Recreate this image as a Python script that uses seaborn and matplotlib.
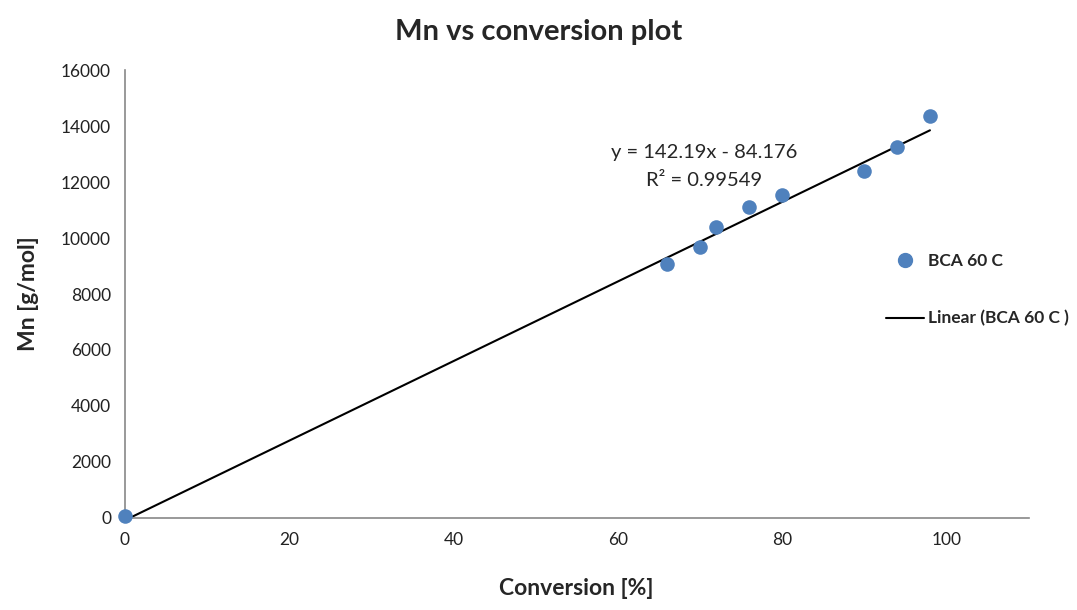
import numpy as np
import pandas as pd
import matplotlib
matplotlib.use("Agg")
import matplotlib.pyplot as plt
import seaborn as sns
from matplotlib.lines import Line2D

conversion = [0, 66, 70, 72, 76, 80, 90, 94, 98]
mn = [50, 9070, 9680, 10390, 11100, 11540, 12390, 13250, 14360]
slope = 142.19
intercept = -84.176
eq_text = "y = 142.19x - 84.176"
r2_text = "R² = 0.99549"
series_name = "BCA 60 C"
trend_name = "Linear (BCA 60 C )"
xticks = [0, 20, 40, 60, 80, 100]
yticks = [0, 2000, 4000, 6000, 8000, 10000, 12000, 14000, 16000]

sns.set_theme(style="white")
plt.rcParams['font.family'] = ['Lato', 'DejaVu Sans']

df = pd.DataFrame({"Conversion": conversion, "Mn": mn})

fig = plt.figure(figsize=(10.77, 6.10), dpi=100)
ax = fig.add_axes([0.116, 0.151, 0.839, 0.734])

blue = "#4F81BD"
sns.scatterplot(data=df, x="Conversion", y="Mn", ax=ax, color=blue, s=110,
                edgecolor=blue, linewidth=0, zorder=3, legend=False,
                clip_on=False)
xl = np.array([0, max(conversion)])
ax.plot(xl, slope * xl + intercept, color="black", lw=1.5, zorder=2,
        clip_on=False)

ax.set_xlim(0, 110)
ax.set_ylim(0, 16000)
ax.set_xticks(xticks)
ax.set_yticks(yticks)
ax.tick_params(axis="both", labelsize=12.5, colors="#222222", length=0, pad=10)
for side in ["top", "right"]:
    ax.spines[side].set_visible(False)
for side in ["left", "bottom"]:
    ax.spines[side].set_color("#888888")
    ax.spines[side].set_linewidth(1.2)
ax.grid(False)

ax.set_xlabel("Conversion [%]", fontsize=16.5, fontweight="bold", labelpad=22)
ax.set_ylabel("Mn [g/mol]", fontsize=16.5, fontweight="bold", labelpad=16)
fig.text(0.5, 0.948, "Mn vs conversion plot", ha="center", va="center",
         fontsize=21, fontweight="bold")

ax.text(70.5, 13050, eq_text, ha="center", va="center", fontsize=14.5)
ax.text(70.5, 12050, r2_text, ha="center", va="center", fontsize=14.5)

handles = [Line2D([], [], marker="o", ls="", color=blue, markersize=10),
           Line2D([], [], color="black", lw=1.5)]
leg = fig.legend(handles, [series_name, trend_name], loc="center left",
                 bbox_to_anchor=(0.808, 0.525), frameon=False,
                 prop={"size": 12.5, "weight": "bold"}, labelspacing=2.4,
                 handlelength=2.2, handletextpad=0.2)

fig.savefig("out.png", dpi=100)
